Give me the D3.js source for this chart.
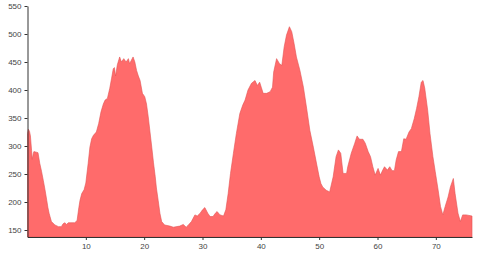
<html>
<head>
<style>
  body { margin: 0; background: #fff; }
  .axis text { font-family: Arial, "Liberation Sans", sans-serif; font-size: 8px; fill: #444; }
  .axis path, .axis line { stroke: #333; }
</style>
</head>
<body>
<script src="https://cdn.jsdelivr.net/npm/d3@7"></script>

<div id="container1"></div>

<script>

// distance (km) and elevation (m)
const distance = [0.0, 0.15, 0.35, 0.5, 0.7, 0.8, 1.0, 1.1, 1.5, 1.8, 2.1, 2.4, 2.7, 3.0, 3.3, 3.5, 3.7, 4.1, 4.7, 5.3,
  5.8, 6.1, 6.4, 6.7, 7.0, 7.3, 8.1, 8.5, 8.8, 9.0, 9.3, 9.7, 10.0, 10.4, 10.7, 11.0, 11.3, 11.8, 12.2, 12.6,
  13.0, 13.3, 13.7, 14.1, 14.4, 14.7, 14.9, 15.1, 15.4, 15.8, 16.1, 16.5, 16.9, 17.3, 17.5, 17.8, 18.1, 18.4, 18.7, 19.0,
  19.3, 19.7, 20.1, 20.4, 20.7, 21.0, 21.3, 21.6, 21.9, 22.1, 22.4, 22.7, 23.0, 23.5, 24.4, 25.0, 26.1, 26.7, 27.2, 27.5,
  28.1, 28.7, 29.1, 29.6, 30.0, 30.4, 30.9, 31.3, 31.8, 32.2, 32.5, 33.0, 33.6, 34.0, 34.4, 34.8, 35.3, 35.8, 36.4, 36.9,
  37.3, 37.8, 38.4, 39.0, 39.4, 39.8, 40.1, 40.4, 41.0, 41.6, 42.0, 42.2, 42.7, 43.2, 43.6, 44.0, 44.4, 44.9, 45.3, 45.7,
  46.1, 46.7, 47.3, 47.9, 48.4, 49.0, 49.6, 50.0, 50.3, 50.6, 51.2, 51.8, 52.4, 52.9, 53.3, 53.7, 54.1, 54.7, 54.9, 55.5,
  56.1, 56.5, 56.9, 57.5, 57.9, 58.4, 58.8, 59.2, 59.6, 60.1, 60.5, 60.9, 61.2, 61.7, 62.1, 62.5, 62.9, 63.2, 63.6, 64.1,
  64.5, 64.9, 65.4, 65.8, 66.3, 66.7, 67.1, 67.5, 67.8, 68.1, 68.6, 69.0, 69.5, 69.9, 70.4, 70.8, 71.2, 71.6, 72.1, 72.5,
  73.0, 73.3, 73.8, 74.2, 74.6, 75.2, 76.2];

const elevation = [322, 330, 326, 318, 292, 276, 287, 290, 289, 288, 269, 255, 239, 222, 203, 190, 180, 165, 159, 156,
  156, 161, 163, 160, 163, 163, 163, 167, 190, 203, 215, 222, 234, 269, 298, 313, 319, 325, 340, 361,
  375, 382, 385, 403, 420, 438, 440, 425, 445, 459, 450, 456, 450, 456, 447, 453, 459, 450, 435, 425,
  417, 394, 388, 375, 352, 325, 298, 270, 245, 225, 203, 180, 165, 159, 157, 155, 157, 160, 155, 158,
  165, 177, 175, 180, 186, 190, 180, 174, 174, 180, 183, 177, 175, 186, 215, 251, 287, 322, 358, 373,
  382, 400, 412, 417, 408, 414, 404, 394, 394, 397, 405, 432, 456, 447, 444, 477, 498, 513, 504, 483,
  459, 435, 405, 364, 328, 298, 266, 245, 233, 227, 221, 218, 245, 281, 293, 287, 251, 251, 263, 287,
  305, 318, 312, 312, 305, 290, 281, 263, 248, 260, 248, 257, 263, 257, 263, 256, 256, 275, 290, 290,
  313, 312, 325, 331, 349, 367, 388, 414, 417, 403, 364, 322, 281, 254, 221, 192, 177, 192, 209, 227,
  242, 215, 180, 165, 177, 177, 175];

const xTicks = [10, 20, 30, 40, 50, 60, 70];
const yTicks = [150, 200, 250, 300, 350, 400, 450, 500, 550];

const fill = "#ff6b6b";
const edge = "#e35252";

const margin = {top: 6, right: 6, bottom: 18, left: 27.5},
    width = 478 - margin.left - margin.right,
    height = 255 - margin.top - margin.bottom;

const svg = d3.select("#container1")
  .append("svg")
    .attr("width", 478)
    .attr("height", 255)
  .append("g")
    .attr("transform", `translate(${margin.left},${margin.top})`);

const data = distance.map((d, i) => ({x: d, y: elevation[i]}));

const x = d3.scaleLinear()
    .domain([0, 76.2])
    .range([0, width]);

const y = d3.scaleLinear()
    .domain([137.5, 550])
    .range([height, 0]);

const area = d3.area()
    .x(d => x(d.x))
    .y0(height)
    .y1(d => y(d.y));

svg.append("path")
    .datum(data)
    .attr("d", area)
    .style("fill", fill)
    .style("stroke", edge)
    .style("stroke-width", 0.6);

svg.append("g")
    .attr("class", "axis")
    .attr("transform", `translate(0, ${height})`)
    .call(d3.axisBottom(x).tickValues(xTicks).tickSize(3).tickSizeOuter(0));

svg.append("g")
    .attr("class", "axis")
    .call(d3.axisLeft(y).tickValues(yTicks).tickSize(3).tickSizeOuter(0));

</script>
</body>
</html>
